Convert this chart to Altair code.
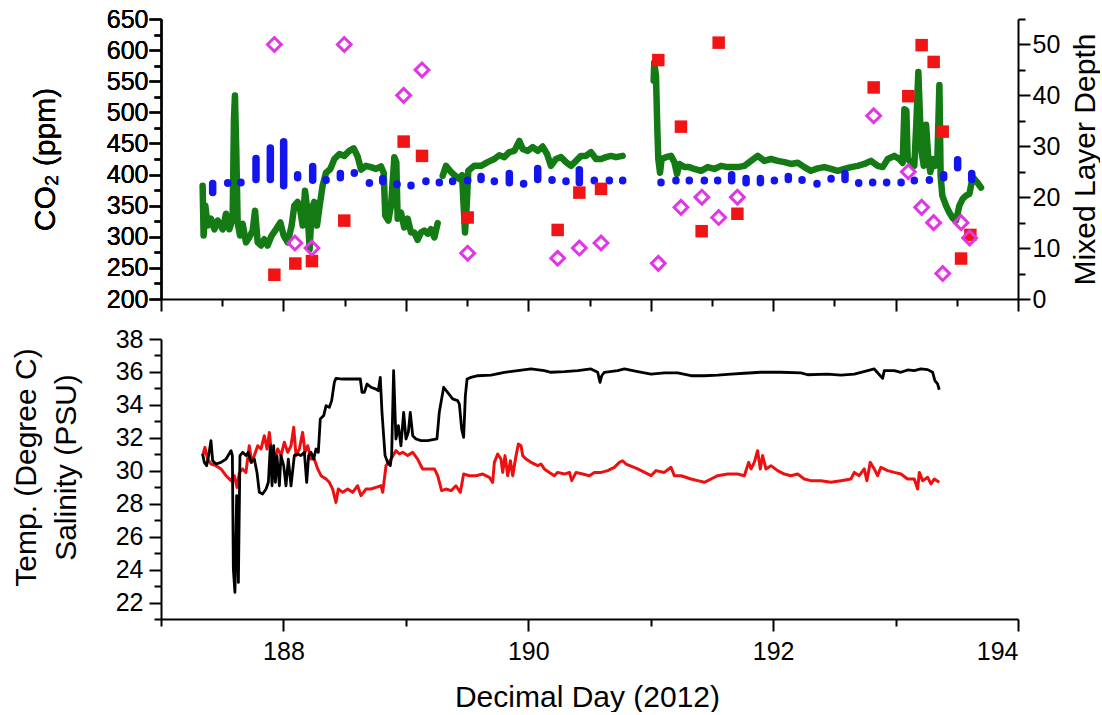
import altair as alt
import pandas as pd

FONT = "Liberation Sans"

# ---------------- top panel data ----------------
green_day = [187.340, 187.348, 187.362, 187.381, 187.408, 187.436, 187.463, 187.504, 187.531, 187.558,
             187.585, 187.596, 187.604, 187.615, 187.626, 187.645, 187.667, 187.694, 187.721, 187.749,
             187.768, 187.790, 187.817, 187.844, 187.871, 187.904, 187.939, 187.975, 188.002, 188.035,
             188.067, 188.089, 188.116, 188.138, 188.157, 188.176, 188.198, 188.214, 188.231, 188.252,
             188.274, 188.296, 188.320, 188.348, 188.383, 188.416, 188.457, 188.497, 188.538, 188.574,
             188.606, 188.634, 188.674, 188.715, 188.756, 188.797, 188.819, 188.832, 188.857, 188.879,
             188.906, 188.922, 188.933, 188.960, 188.987, 189.015, 189.042, 189.069, 189.096, 189.124,
             189.151, 189.178, 189.205, 189.233, 189.260,
             189.301, 189.328, 189.369, 189.410, 189.437, 189.459, 189.472, 189.483, 189.497, 189.510,
             189.559, 189.614, 189.668, 189.723, 189.763, 189.804, 189.845, 189.886, 189.927, 189.954,
             189.995, 190.036, 190.077, 190.117, 190.153, 190.185, 190.226, 190.267, 190.308, 190.349,
             190.390, 190.430, 190.471, 190.512, 190.553, 190.594, 190.635, 190.676, 190.716, 190.771,
             191.024, 191.029, 191.043, 191.054, 191.062, 191.076, 191.089, 191.125, 191.166, 191.193,
             191.215, 191.234, 191.275, 191.315, 191.356, 191.411, 191.465, 191.520, 191.574, 191.628,
             191.683, 191.710, 191.765, 191.819, 191.874, 191.928, 191.983, 192.037, 192.092, 192.146,
             192.201, 192.255, 192.309, 192.364, 192.418, 192.473, 192.527, 192.582, 192.636, 192.691,
             192.745, 192.799, 192.854, 192.895, 192.936, 192.990, 193.031, 193.058, 193.072, 193.088,
             193.099, 193.126, 193.153, 193.170, 193.186, 193.200, 193.213, 193.230, 193.249, 193.268,
             193.284, 193.303, 193.322, 193.341, 193.358, 193.368, 193.382, 193.412, 193.439, 193.467,
             193.494, 193.521, 193.548, 193.575, 193.603, 193.630, 193.665, 193.698]
green_co2 = [382, 302, 350, 318, 329, 312, 326, 312, 337, 312,
             329, 489, 527, 436, 323, 302, 321, 291, 299, 310,
             342, 291, 286, 296, 286, 302, 312, 323, 302, 291,
             318, 350, 356, 342, 318, 374, 339, 280, 345, 356,
             318, 350, 382, 403, 409, 425, 433, 430, 438, 442,
             429, 408, 414, 412, 409, 413, 403, 334, 326, 350,
             428, 420, 329, 339, 315, 329, 307, 307, 295, 307,
             310, 305, 312, 299, 322,
             398, 414, 404, 397, 393, 399, 350, 307, 350, 406,
             414, 414, 420, 425, 431, 428, 436, 438, 454, 441,
             438, 444, 438, 445, 433, 414, 425, 428, 420, 414,
             422, 430, 430, 436, 425, 425, 428, 430, 428, 430,
             551, 580, 559, 473, 425, 403, 425, 428, 430, 420,
             401, 417, 412, 412, 409, 406, 412, 409, 414, 412,
             412, 412, 414, 422, 430, 422, 425, 422, 420, 417,
             419, 412, 406, 410, 412, 409, 406, 409, 412, 414,
             417, 422, 414, 412, 425, 430, 425, 419, 505, 503,
             425, 420, 414, 484, 565, 489, 436, 414, 480, 425,
             404, 425, 414, 422, 544, 398, 366, 350, 339, 330,
             326, 350, 361, 366, 369, 396, 388, 379]
green_gap_after = [189.26, 190.771]   # data gaps in the underway record

blue_day = [187.422, 187.545, 187.653, 187.776, 187.893, 188.002, 188.116, 188.239, 188.348, 188.465,
            188.579, 188.702, 188.811, 188.928, 189.042, 189.164, 189.273, 189.382, 189.505, 189.614,
            189.723, 189.845, 189.962, 190.077, 190.194, 190.308, 190.417, 190.539, 190.662, 190.771,
            191.084, 191.206, 191.315, 191.438, 191.547, 191.661, 191.779, 191.896, 192.010, 192.124,
            192.236, 192.358, 192.473, 192.587, 192.699, 192.813, 192.927, 193.045, 193.153, 193.276,
            193.393, 193.507, 193.622]
blue_lo = [371, 386, 387, 392, 392, 382, 395, 391, 391, 395,
           402, 386, 389, 384, 382, 389, 387, 389, 390, 392,
           389, 387, 385, 392, 391, 389, 387, 390, 390, 390,
           387, 390, 390, 390, 390, 390, 387, 387, 390, 392,
           391, 385, 393, 392, 386, 387, 387, 387, 390, 391,
           395, 411, 392]
blue_hi = [385, 386, 387, 425, 442, 452, 399, 412, 391, 401,
           402, 386, 393, 384, 382, 389, 387, 389, 390, 396,
           389, 401, 385, 409, 391, 389, 407, 390, 390, 390,
           387, 390, 390, 390, 390, 399, 393, 393, 390, 396,
           391, 385, 393, 401, 386, 387, 387, 387, 390, 391,
           399, 423, 401]

sq_day = [187.926, 188.097, 188.233, 188.497, 188.982, 189.132, 189.505, 190.240, 190.417, 190.594,
          191.062, 191.247, 191.416, 191.555, 191.708, 192.821, 193.104, 193.213, 193.311, 193.385,
          193.535, 193.611]
sq_co2 = [239, 257, 261, 326, 453, 430, 331, 311, 371, 377,
          584, 477, 309, 612, 337, 540, 526, 608, 581, 469,
          265, 303]

mld_day = [187.926, 188.094, 188.233, 188.497, 188.982, 189.132, 189.505, 190.240, 190.417, 190.594,
           191.062, 191.247, 191.418, 191.555, 191.708, 192.821, 193.104, 193.213, 193.311, 193.385,
           193.535, 193.605]
mld_val = [50, 11, 10, 50, 40, 45, 9, 8, 10, 11,
           7, 18, 20, 16, 20, 36, 25, 18, 15, 5,
           15, 12]

# ---------------- bottom panel data ----------------
sal_day = [187.340, 187.354, 187.373, 187.389, 187.408, 187.422, 187.449, 187.490, 187.531, 187.572,
           187.583, 187.591, 187.604, 187.618, 187.632, 187.645, 187.667, 187.694, 187.713, 187.735,
           187.762, 187.784, 187.803, 187.830, 187.858, 187.877, 187.893, 187.907, 187.920, 187.934,
           187.947, 187.967, 187.980, 188.002, 188.021, 188.040, 188.062, 188.089, 188.116, 188.143,
           188.171, 188.190, 188.206, 188.225, 188.247, 188.266, 188.285, 188.301, 188.329, 188.348,
           188.375, 188.394, 188.416, 188.429, 188.484, 188.565, 188.628, 188.642, 188.661, 188.683,
           188.715, 188.756, 188.775, 188.791, 188.805, 188.830, 188.851, 188.873, 188.884, 188.900,
           188.919, 188.939, 188.960, 188.982, 189.001, 189.020, 189.036, 189.056, 189.083, 189.124,
           189.178, 189.254, 189.273, 189.309, 189.341, 189.382, 189.423, 189.437, 189.456, 189.472,
           189.486, 189.500, 189.532, 189.587, 189.696, 189.805, 189.914, 190.022, 190.131, 190.186,
           190.295, 190.404, 190.512, 190.567, 190.586, 190.600, 190.621, 190.730, 190.785, 190.894,
           191.003, 191.111, 191.220, 191.329, 191.438, 191.547, 191.656, 191.765, 191.900, 192.064,
           192.227, 192.282, 192.445, 192.554, 192.663, 192.772, 192.826, 192.894, 192.908, 192.989,
           193.044, 193.098, 193.153, 193.207, 193.262, 193.303, 193.321, 193.343, 193.357]
sal_val = [31.02, 30.51, 30.31, 30.92, 31.83, 30.61, 30.41, 30.51, 30.71, 31.22,
           30.92, 24.03, 22.62, 28.49, 23.22, 30.92, 31.12, 30.92, 31.12, 30.51,
           30.71, 29.90, 28.69, 28.59, 28.89, 29.30, 31.52, 29.09, 31.52, 29.30,
           30.92, 29.09, 30.92, 30.31, 29.09, 30.71, 29.09, 30.92, 31.02, 30.92,
           31.12, 29.30, 30.92, 31.12, 30.71, 31.32, 31.12, 33.14, 33.35, 33.95,
           33.85, 34.26, 35.37, 35.61, 35.57, 35.57, 35.57, 34.76, 34.76, 35.27,
           35.07, 34.96, 34.86, 35.67, 33.55, 30.92, 30.51, 30.31, 30.92, 36.08,
           31.93, 32.74, 31.52, 33.55, 31.93, 32.33, 33.55, 32.13, 31.93, 31.83,
           31.83, 31.93, 33.55, 35.07, 34.76, 34.36, 34.26, 34.05, 32.53, 32.03,
           34.56, 35.57, 35.67, 35.77, 35.81, 35.98, 36.08, 36.18, 36.08, 35.98,
           36.02, 36.08, 36.18, 35.98, 35.37, 35.77, 35.98, 36.08, 36.18, 36.02,
           35.87, 35.94, 35.94, 35.77, 35.77, 35.81, 35.87, 35.92, 35.98, 35.98,
           35.94, 35.83, 35.87, 35.81, 35.87, 36.08, 36.18, 35.61, 36.08, 36.08,
           35.98, 36.12, 36.08, 36.18, 36.14, 35.98, 35.47, 35.27, 34.92]

temp_day = [187.340, 187.359, 187.381, 187.408, 187.449, 187.490, 187.531, 187.572, 187.599, 187.621,
            187.640, 187.667, 187.694, 187.721, 187.741, 187.762, 187.790, 187.817, 187.844, 187.866,
            187.885, 187.904, 187.926, 187.953, 187.980, 188.007, 188.035, 188.062, 188.084, 188.103,
            188.130, 188.157, 188.176, 188.198, 188.225, 188.252, 188.280, 188.307, 188.348, 188.375,
            188.402, 188.429, 188.448, 188.484, 188.525, 188.565, 188.606, 188.634, 188.674, 188.715,
            188.756, 188.797, 188.811, 188.838, 188.879, 188.919, 188.947, 188.974, 189.015, 189.056,
            189.096, 189.137, 189.178, 189.233, 189.260, 189.292, 189.328, 189.369, 189.409, 189.445,
            189.472, 189.519, 189.573, 189.628, 189.682, 189.709, 189.723, 189.750, 189.777, 189.791,
            189.810, 189.832, 189.854, 189.873, 189.900, 189.919, 189.941, 189.954, 189.982, 190.022,
            190.077, 190.104, 190.131, 190.172, 190.213, 190.240, 190.295, 190.336, 190.355, 190.390,
            190.444, 190.499, 190.540, 190.594, 190.649, 190.703, 190.744, 190.771, 190.798, 190.894,
            191.003, 191.043, 191.111, 191.166, 191.193, 191.248, 191.329, 191.384, 191.438, 191.493,
            191.547, 191.629, 191.710, 191.765, 191.800, 191.820, 191.846, 191.873, 191.895, 191.914,
            191.941, 191.982, 192.036, 192.091, 192.145, 192.200, 192.254, 192.309, 192.390, 192.472,
            192.554, 192.635, 192.663, 192.703, 192.744, 192.766, 192.793, 192.826, 192.853, 192.880,
            192.935, 192.989, 193.044, 193.098, 193.153, 193.180, 193.194, 193.221, 193.262, 193.289,
            193.316, 193.357]
temp_val = [30.92, 31.42, 30.71, 30.41, 30.31, 30.11, 29.70, 29.40, 29.70, 28.99,
            29.90, 30.11, 29.90, 31.52, 30.51, 30.92, 31.52, 31.32, 32.13, 31.32,
            32.33, 30.92, 30.71, 31.32, 30.92, 31.73, 31.12, 31.52, 32.64, 30.92,
            31.32, 32.33, 31.12, 31.52, 30.71, 30.71, 30.11, 29.70, 29.50, 29.30,
            28.89, 28.08, 28.89, 28.69, 28.89, 28.69, 29.09, 28.49, 28.89, 28.89,
            28.99, 29.09, 28.69, 30.31, 30.71, 31.22, 31.02, 31.12, 30.92, 31.12,
            30.71, 30.11, 30.11, 30.11, 29.70, 28.79, 28.89, 28.79, 29.09, 28.69,
            29.80, 29.70, 29.70, 29.80, 29.60, 29.30, 30.51, 31.02, 30.71, 29.90,
            30.92, 29.70, 30.61, 29.70, 30.92, 31.62, 31.52, 30.92, 30.71, 30.51,
            30.31, 30.41, 30.11, 29.90, 29.70, 29.90, 29.80, 29.90, 29.40, 29.90,
            29.80, 29.70, 29.90, 29.90, 30.01, 30.21, 30.51, 30.61, 30.41, 30.11,
            29.70, 30.01, 29.90, 30.21, 29.70, 29.70, 29.50, 29.40, 29.30, 29.50,
            29.70, 29.80, 29.80, 29.70, 30.51, 30.11, 30.51, 31.22, 30.11, 30.92,
            30.11, 30.31, 30.01, 29.80, 29.70, 29.80, 29.50, 29.40, 29.40, 29.30,
            29.40, 29.50, 29.90, 29.70, 30.11, 29.40, 30.51, 30.11, 29.70, 30.21,
            30.01, 29.90, 29.80, 29.50, 29.50, 28.89, 29.90, 29.40, 29.60, 29.20,
            29.50, 29.30]

# ---------------- tables ----------------
green_df = pd.DataFrame({"day": green_day, "co2": green_co2})
green_df["seg"] = [sum(d > g for g in green_gap_after) for d in green_day]
blue_df = pd.DataFrame({"day": blue_day, "lo": blue_lo, "hi": blue_hi})
sq_df = pd.DataFrame({"day": sq_day, "co2": sq_co2})
mld_df = pd.DataFrame({"day": mld_day, "mld": mld_val})
sal_df = pd.DataFrame({"day": sal_day, "val": sal_val})
temp_df = pd.DataFrame({"day": temp_day, "val": temp_val})

W, H = 857, 280
XDOM = [187, 194]


def tick_cond(test, major, minor):
    return {"condition": {"test": test, "value": major}, "value": minor}


x_scale = alt.Scale(domain=XDOM, nice=False, zero=False)
x_axis_top = alt.Axis(values=[187 + 0.5 * i for i in range(15)], labels=False, title=None,
                      tickSize=tick_cond("abs(datum.value - round(datum.value)) < 0.001", 12, 7))
x_axis_bot = alt.Axis(values=list(range(187, 195)),
                      labelExpr="datum.value % 2 === 0 ? datum.label : ''",
                      tickSize=tick_cond("datum.value % 2 === 0", 12, 7),
                      labelPadding=8,
                      title="Decimal Day (2012)", titleX=426, titleY=87,
                      titleBaseline="alphabetic", titleAlign="center")

co2_scale = alt.Scale(domain=[200, 650], nice=False, zero=False)
co2_axis = alt.Axis(orient="left", values=list(range(200, 651, 25)),
                    labelExpr="datum.value % 50 === 0 ? datum.label : ''",
                    tickSize=tick_cond("datum.value % 50 === 0", 12, 7),
                    labelPadding=1,
                    title="CO\u2082 (ppm)", titleX=-107, titleY=140, titleAngle=270,
                    titleBaseline="alphabetic", titleAlign="center")
mld_axis = alt.Axis(orient="right", values=list(range(0, 56, 5)),
                    labelExpr="datum.value % 10 === 0 ? datum.label : ''",
                    tickSize=tick_cond("datum.value % 10 === 0", 12, 7),
                    labelPadding=2,
                    title="Mixed Layer Depth", titleX=76, titleY=140, titleAngle=270,
                    titleBaseline="alphabetic", titleAlign="center")

xt = alt.X("day:Q", scale=x_scale, axis=x_axis_top)

green = alt.Chart(green_df).mark_line(color="#147a14", strokeWidth=6.5, strokeJoin="round",
                                      strokeCap="round").encode(
    x=xt, y=alt.Y("co2:Q", scale=co2_scale, axis=co2_axis), detail="seg:N", order="day:Q")

blue = alt.Chart(blue_df).transform_calculate(top="datum.hi + 0.8").mark_rule(
    color="#1414ee", strokeWidth=7.5, strokeCap="round").encode(
    x=xt, y=alt.Y("lo:Q", scale=co2_scale, axis=co2_axis), y2="top:Q")

squares = alt.Chart(sq_df).mark_point(shape="square", filled=True, size=156, color="#f01414",
                                      opacity=1).encode(
    x=xt, y=alt.Y("co2:Q", scale=co2_scale, axis=co2_axis))

diamonds = alt.Chart(mld_df).mark_point(shape="diamond", filled=False, size=190, strokeWidth=3,
                                        color="#e236e6", opacity=1).encode(
    x=xt, y=alt.Y("mld:Q", scale=alt.Scale(domain=[0, 55], nice=False, zero=True), axis=mld_axis))

top = alt.layer(green, blue, squares, diamonds).resolve_scale(y="independent").properties(
    width=W, height=H)

xb = alt.X("day:Q", scale=x_scale, axis=x_axis_bot)
ts_scale = alt.Scale(domain=[21, 38], nice=False, zero=False)
ts_axis = alt.Axis(orient="left", values=list(range(21, 39)),
                   labelExpr="datum.value % 2 === 0 ? datum.label : ''",
                   tickSize=tick_cond("datum.value % 2 === 0", 12, 7),
                   labelPadding=6,
                   title=["Temp. (Degree C)", "Salinity (PSU)"], titleX=-126, titleY=128,
                   titleAngle=270, titleBaseline="alphabetic", titleAlign="center",
                   titleLineHeight=40)

temp_line = alt.Chart(temp_df).mark_line(color="#ee1010", strokeWidth=3, strokeJoin="round").encode(
    x=xb, y=alt.Y("val:Q", scale=ts_scale, axis=ts_axis), order="day:Q")
sal_line = alt.Chart(sal_df).mark_line(color="#000000", strokeWidth=2.8, strokeJoin="round").encode(
    x=xb, y=alt.Y("val:Q", scale=ts_scale, axis=ts_axis), order="day:Q")

bottom = alt.layer(temp_line, sal_line).properties(width=W, height=H)

chart = alt.vconcat(top, bottom, spacing=40, bounds="flush").properties(
    padding={"left": 10, "top": 7, "right": 0, "bottom": 0},
    background="white"
).configure_view(strokeWidth=0).configure_axis(
    domainColor="black", domainWidth=2, tickColor="black", tickWidth=2, grid=False,
    labelFont=FONT, labelFontSize=25, labelColor="black",
    titleFont=FONT, titleFontSize=30, titleFontWeight="normal", titleColor="black"
)

chart.save("out.html", embed_options={"renderer": "svg", "actions": False})
